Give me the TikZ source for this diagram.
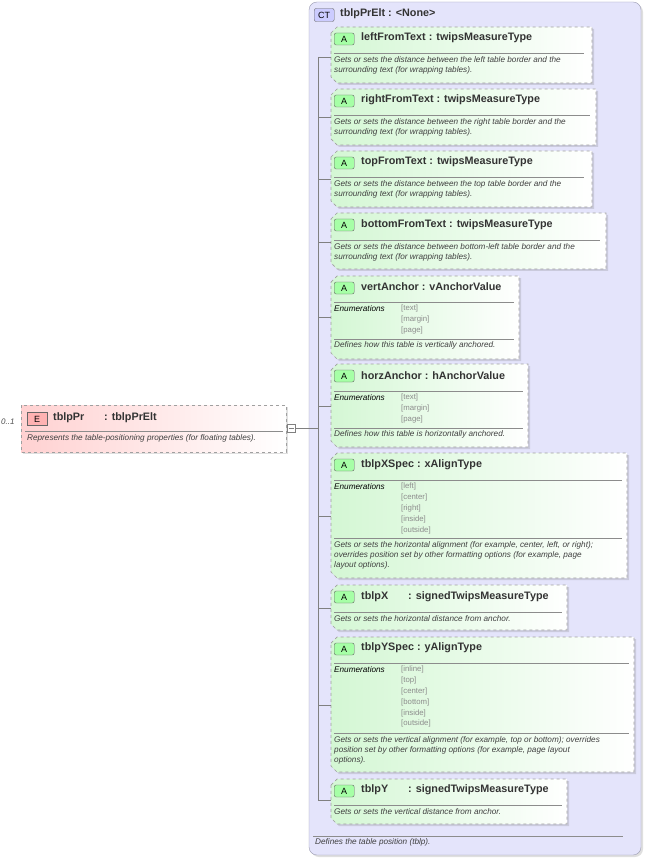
\documentclass[tikz,border=0pt]{standalone}
\usepackage{fontspec}
\setmainfont{Liberation Sans}
\usetikzlibrary{shadows}
\definecolor{ctfill}{HTML}{E4E4FB}
\definecolor{ctline}{HTML}{9A9AB0}
\definecolor{agreen}{HTML}{D4F7D4}
\definecolor{bord}{HTML}{A0A0A0}
\tikzset{
 x=1pt,y=-1pt,
 ttl/.style={anchor=west,font=\bfseries\fontsize{10.8}{12}\selectfont,text=black!80,inner sep=0},
 dsc/.style={anchor=north west,font=\itshape\fontsize{8.2}{10}\selectfont,text=black!75,inner sep=0,align=left},
 enm/.style={anchor=north west,font=\fontsize{7.8}{10.8}\selectfont,text=black!45,inner sep=0,align=left},
 enl/.style={anchor=north west,font=\itshape\fontsize{8.2}{10}\selectfont,inner sep=0},
 abox/.style={draw=bord,dashed,line width=0.7pt,left color=agreen,right color=white,drop shadow={opacity=0.25,shadow xshift=2pt,shadow yshift=-2pt}},
 badge/.style={draw=black!60,fill=green!35,rounded corners=2pt,minimum width=20pt,minimum height=12pt,inner sep=0,font=\fontsize{9}{9}\selectfont},
 sep/.style={draw=black!45,line width=0.6pt},
 conn/.style={draw=black!50,line width=0.6pt},
}
\newcommand{\mybox}[5]{% name x1 y1 x2 y2
 \path[abox] (#2,#3+6)--(#2+6,#3)--(#4,#3)--(#4,#5)--(#2+6,#5)--(#2,#5-6)--cycle;
 \coordinate (#1) at (#2,{(#3+#5)/2});
 \node[badge,anchor=west] (#1b) at (#2+3,#3+12) {A};
}
\begin{document}
\begin{tikzpicture}
\useasboundingbox (0,0) rectangle (647,858);
% CT container
\path[draw=ctline,fill=ctfill,rounded corners=8pt,drop shadow={opacity=0.25,shadow xshift=2pt,shadow yshift=-2pt}] (309,2) rectangle (641,855);
\node[draw=black!60,fill=blue!20,rounded corners=2pt,minimum width=20pt,minimum height=13pt,inner sep=0,font=\fontsize{9}{9}\selectfont,anchor=west] (ctb) at (314,15) {CT};
\node[ttl] (ctt) at (340,14) {tblpPrElt : <None>};
\draw[sep] (313,836)--(623,836);
\node[dsc] (ctd) at (315,838) {Defines the table position (tblp).};
% spine
\coordinate (sp1) at (318,57);
\coordinate (sp2) at (318,800);
\draw[conn] (sp1)--(sp2);

% 1
\mybox{a1}{331}{27}{592}{83}
\node[ttl] at (361,38) {leftFromText : twipsMeasureType};
\draw[sep] (334,53)--(584,53);
\node[dsc] at (334,56) {Gets or sets the distance between the left table border and the\\surrounding text (for wrapping tables).};
% 2
\mybox{a2}{331}{89}{596}{145}
\node[ttl] at (361,100) {rightFromText : twipsMeasureType};
\draw[sep] (334,115)--(590,115);
\node[dsc] at (334,118) {Gets or sets the distance between the right table border and the\\surrounding text (for wrapping tables).};
% 3
\mybox{a3}{331}{151}{592}{207}
\node[ttl] at (361,162) {topFromText : twipsMeasureType};
\draw[sep] (334,177)--(584,177);
\node[dsc] at (334,180) {Gets or sets the distance between the top table border and the\\surrounding text (for wrapping tables).};
% 4
\mybox{a4}{331}{213}{606}{269}
\node[ttl] at (361,225) {bottomFromText : twipsMeasureType};
\draw[sep] (334,240)--(600,240);
\node[dsc] at (334,243) {Gets or sets the distance between bottom-left table border and the\\surrounding text (for wrapping tables).};
% 5
\mybox{a5}{331}{276}{519}{359}
\node[ttl] at (361,287) {vertAnchor : vAnchorValue};
\draw[sep] (334,302)--(514,302);
\node[enl] at (334,305) {Enumerations};
\node[enm] at (401,305) {{[text]}\\{[margin]}\\{[page]}};
\draw[sep] (334,339)--(514,339);
\node[dsc] at (334,341) {Defines how this table is vertically anchored.};
% 6
\mybox{a6}{331}{364}{528}{447}
\node[ttl] at (361,376) {horzAnchor : hAnchorValue};
\draw[sep] (334,391)--(523,391);
\node[enl] at (334,394) {Enumerations};
\node[enm] at (401,394) {{[text]}\\{[margin]}\\{[page]}};
\draw[sep] (334,428)--(523,428);
\node[dsc] at (334,430) {Defines how this table is horizontally anchored.};
% 7
\mybox{a7}{331}{453}{627}{578}
\node[ttl] at (361,465) {tblpXSpec : xAlignType};
\draw[sep] (334,480)--(622,480);
\node[enl] at (334,483) {Enumerations};
\node[enm] at (401,483) {{[left]}\\{[center]}\\{[right]}\\{[inside]}\\{[outside]}};
\draw[sep] (334,538)--(622,538);
\node[dsc] at (334,541) {Gets or sets the horizontal alignment (for example, center, left, or right);\\overrides position set by other formatting options (for example, page\\layout options).};
% 8
\mybox{a8}{331}{585}{567}{630}
\node[ttl] at (361,597) {tblpX};
\node[ttl] at (408,597) {: signedTwipsMeasureType};
\draw[sep] (334,612)--(562,612);
\node[dsc] at (334,615) {Gets or sets the horizontal distance from anchor.};
% 9
\mybox{a9}{331}{637}{634}{772}
\node[ttl] at (361,648) {tblpYSpec : yAlignType};
\draw[sep] (334,663)--(629,663);
\node[enl] at (334,666) {Enumerations};
\node[enm] at (401,666) {{[inline]}\\{[top]}\\{[center]}\\{[bottom]}\\{[inside]}\\{[outside]}};
\draw[sep] (334,733)--(629,733);
\node[dsc] at (334,736) {Gets or sets the vertical alignment (for example, top or bottom); overrides\\position set by other formatting options (for example, page layout\\options).};
% 10
\mybox{a10}{331}{779}{567}{824}
\node[ttl] at (361,790) {tblpY};
\node[ttl] at (408,790) {: signedTwipsMeasureType};
\draw[sep] (334,805)--(562,805);
\node[dsc] at (334,808) {Gets or sets the vertical distance from anchor.};
% ticks
\foreach \y in {57,117,179,242,317,406,516,608,705,800}{
 \draw[conn] (318,\y) -- (331,\y);
}
% element
\path[draw=bord,dashed,line width=0.7pt,left color=red!18,right color=white,drop shadow={opacity=0.25,shadow xshift=2pt,shadow yshift=-2pt}] (21,405) rectangle (286,452);
\node[draw=black!60,fill=red!30,minimum width=20pt,minimum height=13pt,inner sep=0,font=\fontsize{9}{9}\selectfont,anchor=west] (eb) at (27,419) {E};
\node[ttl] (et) at (53,418) {tblpPr};
\node[ttl] at (104,418) {: tblpPrElt};
\draw[sep] (25,431)--(283,431);
\node[dsc] at (27,434) {Represents the table-positioning properties (for floating tables).};
\node[anchor=west,inner sep=0,font=\itshape\fontsize{8}{8}\selectfont,text=black!70] at (1,422) {0..1};
\node[draw=black!50,fill=white,minimum size=8pt,inner sep=0] (mn) at (291,428) {};
\draw[black!50] (288.5,428)--(293.5,428);
\coordinate (sj) at (318,428);
\draw[conn] (mn.east)--(sj);
\end{tikzpicture}
\end{document}
